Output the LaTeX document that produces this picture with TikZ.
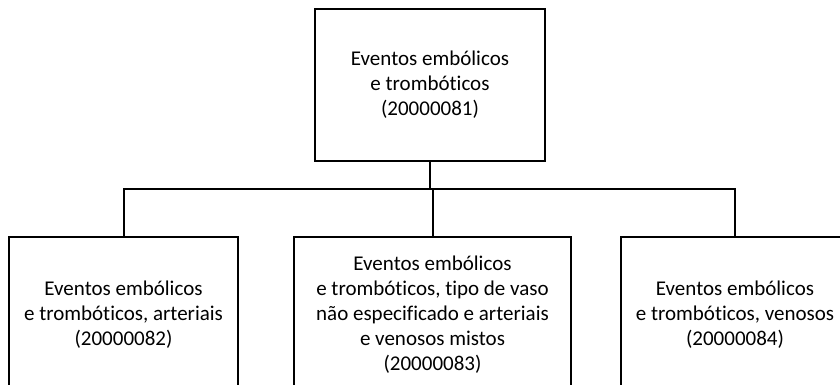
\documentclass[tikz,border=0pt]{standalone}
\usepackage{fontspec}
\setmainfont{Carlito}[Ligatures={NoCommon,NoDiscretionary}]
\begin{document}
\begin{tikzpicture}[x=1pt,y=-1pt,
  box/.style={draw=black,line width=2pt,rectangle,align=center,inner sep=0pt,
    font=\fontsize{21}{25}\selectfont},
  conn/.style={draw=black,line width=2pt}]
\useasboundingbox (0,0) rectangle (840,385);
\clip (0,0) rectangle (840,385);
\node[box,minimum width=230pt,minimum height=152pt] (T) at (430,85)
  {Eventos embólicos\\e trombóticos\\(20000081)};
\node[box,minimum width=229pt,minimum height=156pt] (L) at (123.5,315)
  {Eventos embólicos\\e trombóticos, arteriais\\(20000082)};
\node[box,minimum width=277pt,minimum height=156pt] (M) at (432.5,315)
  {Eventos embólicos\\e trombóticos, tipo de vaso\\não especificado e arteriais\\e venosos mistos\\(20000083)};
\node[box,minimum width=228pt,minimum height=156pt] (R) at (735,315)
  {Eventos embólicos\\e trombóticos, venosos\\(20000084)};
\coordinate (bar) at (430,189);
\draw[conn] (T.south) -- (T.south |- bar);
\draw[conn] (L.north) |- (bar) -| (R.north);
\draw[conn] (M.north) -- (M.north |- bar);
\end{tikzpicture}
\end{document}
